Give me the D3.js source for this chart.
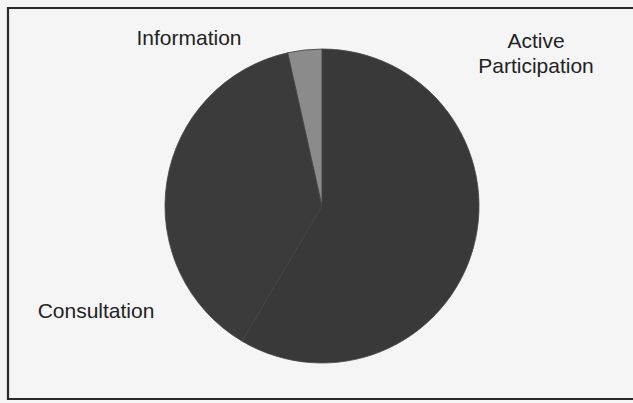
<!DOCTYPE html>
<html>
<head>
<meta charset="utf-8">
<script src="https://cdn.jsdelivr.net/npm/d3@7"></script>
<style>
  html, body { margin: 0; padding: 0; background: #f5f5f5; }
  svg { display: block; }
</style>
</head>
<body>
<div id="chart"></div>
<script>
// Data (percent shares, clockwise from 12 o'clock)
const categories = ['Active Participation', 'Consultation', 'Information'];
const values = [58.5, 38, 3.5];
const sliceColors = ['#393939', '#3b3b3b', '#8b8b8b'];

const width = 633, height = 403;
const cx = 322, cy = 206, radius = 157;

// label placement (text lines and anchor points in px)
const labelLayout = {
    'Active Participation': { x: 536, y: 48, lines: ['Active', 'Participation'] },
    'Consultation': { x: 96, y: 318, lines: ['Consultation'] },
    'Information': { x: 189, y: 45, lines: ['Information'] }
};

const svg = d3.select('#chart')
    .append('svg')
    .attr('width', width)
    .attr('height', height);

svg.append('rect')
    .attr('width', width)
    .attr('height', height)
    .attr('fill', '#f5f5f5');

// frame from the scanned page (no right edge visible)
svg.append('path')
    .attr('d', `M${width},8 H8 V399 H${width}`)
    .attr('fill', 'none')
    .attr('stroke', '#2a2a2a')
    .attr('stroke-width', 2.2);

const pie = d3.pie()
    .sort(null)
    .value(d => d.value);

const arc = d3.arc()
    .innerRadius(0)
    .outerRadius(radius);

const pieData = pie(categories.map((c, i) => ({ name: c, value: values[i] })));

const g = svg.append('g')
    .attr('transform', `translate(${cx},${cy})`);

g.selectAll('path')
    .data(pieData)
    .enter()
    .append('path')
    .attr('d', arc)
    .attr('fill', (d, i) => sliceColors[i])
    .attr('stroke', (d, i) => i === 2 ? '#3e3e3e' : '#444')
    .attr('stroke-width', 0.8);

// labels
const labels = svg.selectAll('text.label')
    .data(pieData)
    .enter()
    .append('text')
    .attr('class', 'label')
    .attr('x', d => labelLayout[d.data.name].x)
    .attr('y', d => labelLayout[d.data.name].y)
    .attr('text-anchor', 'middle')
    .attr('font-family', 'Liberation Sans, Arial, sans-serif')
    .attr('font-size', 21)
    .attr('fill', '#232323');

labels.each(function(d) {
    const lay = labelLayout[d.data.name];
    d3.select(this).selectAll('tspan')
        .data(lay.lines)
        .enter()
        .append('tspan')
        .attr('x', lay.x)
        .attr('dy', (t, i) => i === 0 ? 0 : 25)
        .text(t => t);
});
</script>
</body>
</html>
